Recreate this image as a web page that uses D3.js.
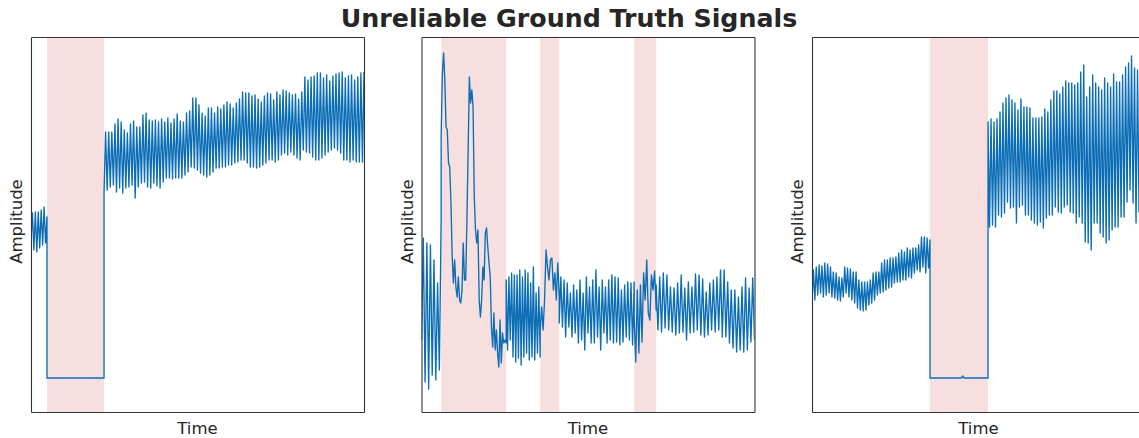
<!DOCTYPE html>
<html><head><meta charset="utf-8">
<script src="https://cdn.jsdelivr.net/npm/d3@7/dist/d3.min.js"></script>
<style>body{margin:0;background:#fff;overflow:hidden} svg{display:block}</style>
</head><body><svg id="chart" width="1139" height="438"></svg>
<script>
// ---------- text ----------
const chartTitle = "Unreliable Ground Truth Signals";
const xLabel = "Time";
const yLabel = "Amplitude";

// ---------- axes domains ----------
const timeDomain = [0, 30];      // seconds per panel
const ampDomain = [0, 375];      // arbitrary amplitude units

// ---------- panel 1 ----------
const p1Gaps = [[1.44, 6.58]];
const p1PreTrace = [172,199,162,200,160,200,164,202,167,205,169,195];
const p1DropTrace = [34, 34];
const p1Troughs = [219,222,225,227,220,224,219,224,225,227,214,225,229,230,225,224,229,226,224,230,
  234,234,233,234,234,234,237,240,245,244,242,239,237,235,237,240,244,244,245,245,
  247,247,249,250,252,252,249,245,245,244,245,247,249,252,252,250,252,257,259,257,
  260,257,254,252,262,260,259,255,252,252,254,257,260,262,264,262,259,252,252,250,
  252,250,250,250];
const p1Peaks = [280,280,280,288,293,290,282,279,288,291,285,285,297,299,292,291,292,290,293,290,
  294,289,293,298,291,290,299,301,314,314,307,299,296,304,304,299,305,303,307,310,
  308,304,309,313,320,319,319,316,317,313,310,316,319,318,312,320,317,322,321,319,
  317,318,313,320,335,332,335,336,339,339,334,337,331,336,338,339,340,334,336,337,
  332,335,339,340];

// ---------- panel 2 ----------
const p2Gaps = [[1.77, 7.63], [10.69, 12.41], [19.16, 21.14]];
const p2StartTrace = [72,174,30,169,23,167,37,152,32,129,42,192];
const p2Gap1Trace = [275,339,359,332,285,282,249,245,209,155,129,152,125,115,135,112,109,122,169,132,
  132,192,262,335,309,322,305,215,182,169,182,112,95,112,145,132,179,184,165,149,
  135,85,65,99,62,82,59,45,92,49,79,69,72,69];
const p2S3Peaks = [132,135,139,137,137,142,135,142,139,129,145,119,125];
const p2S3Troughs = [62,72,55,50,54,47,55,59,52,55,52,59,55];
const p2Gap2Trace = [82,105,82,112,162,145,132,152,154,122,139,112,149,115];
const p2S5Troughs = [89,85,75,85,75,79,69,72,62,79,69,69,75,62,79,69,72,69,70,67,70,75,72,67];
const p2S5Peaks = [135,132,129,119,127,122,132,119,135,125,132,142,125,132,125,132,137,135,134,122,127,130,129,130];
const p2Gap3Trace = [95,50,122,59,127,70,139,112,152,99,92,137,122,141,102];
const p2S7Peaks = [127,135,139,137,125,124,129,137,124,130,125,138,137,133,120,129,132,135,142,142,130,122,122,115,125,134,124,134];
const p2S7Troughs = [82,80,84,82,80,77,79,80,72,79,80,82,77,75,77,82,80,82,75,75,69,64,60,62,60,62,70,72];

// ---------- panel 3 ----------
const p3Gaps = [[10.63, 15.86]];
const p3PreTroughs = [110,112,117,119,115,117,119,115,114,112,111,115,119,115,112,109,104,102,101,102,
  107,109,112,117,119,120,122,124,125,129,130,130,132,132,135,134,139,142,140,145,139,144];
const p3PrePeaks = [142,145,147,146,149,148,145,140,139,135,134,145,144,143,140,140,132,130,130,130,
  132,139,140,140,149,152,152,154,154,155,159,162,160,164,162,164,164,167,175,175,174,172];
const p3DropTrace = [34,34,34,34,34,34,34,34,34,34,34,34,34,34,34,34,34,34,34,34,34,34,
  36,34,34,34,34,34,34,34,34,34,34,34,34,34,34,34,34,34];
const p3PostPeaks = [290,293,290,293,300,309,314,317,312,309,302,313,305,305,304,294,294,294,295,303,
  300,312,321,321,318,325,331,329,329,327,329,340,347,315,325,337,329,325,322,334,
  329,325,338,330,330,337,345,349,356,344,342,340,336];
const p3PostTroughs = [185,187,185,197,195,199,210,204,205,189,205,207,197,197,192,189,187,190,184,194,
  197,197,205,200,199,205,207,200,199,189,195,189,170,169,162,189,189,179,175,169,
  172,182,185,185,195,195,210,222,209,189,200,205,200];

// ---------- build ----------
function interleave(a, b) {
  const out = [];
  for (let i = 0; i < Math.max(a.length, b.length); i++) {
    if (i < a.length) out.push(a[i]);
    if (i < b.length) out.push(b[i]);
  }
  return out;
}
function buildSeries(segments) {
  const pts = [];
  segments.forEach(s => {
    const n = s.values.length;
    s.values.forEach((v, i) => pts.push({t: s.t0 + (n > 1 ? (s.t1 - s.t0) * i / (n - 1) : 0), v}));
  });
  return pts;
}

const panels = [
  { gaps: p1Gaps, series: buildSeries([
      {t0: 0, t1: 1.44, values: p1PreTrace},
      {t0: 1.44, t1: 6.58, values: p1DropTrace},
      {t0: 6.58, t1: 30, values: interleave(p1Troughs, p1Peaks)}
  ])},
  { gaps: p2Gaps, series: buildSeries([
      {t0: 0, t1: 1.77, values: p2StartTrace},
      {t0: 1.77, t1: 7.63, values: p2Gap1Trace},
      {t0: 7.63, t1: 10.69, values: interleave(p2S3Peaks, p2S3Troughs)},
      {t0: 10.69, t1: 12.41, values: p2Gap2Trace},
      {t0: 12.41, t1: 19.16, values: interleave(p2S5Troughs, p2S5Peaks)},
      {t0: 19.16, t1: 21.14, values: p2Gap3Trace},
      {t0: 21.14, t1: 30, values: interleave(p2S7Peaks, p2S7Troughs)}
  ])},
  { gaps: p3Gaps, series: buildSeries([
      {t0: 0, t1: 10.63, values: interleave(p3PreTroughs, p3PrePeaks)},
      {t0: 10.63, t1: 15.86, values: p3DropTrace},
      {t0: 15.86, t1: 30, values: interleave(p3PostPeaks, p3PostTroughs)}
  ])}
];

// ---------- layout ----------
const svg = d3.select("#chart");
const panelW = 333, panelH = 375, panelTop = 37, left0 = 31, step = 390.5;
const textColor = "#262626";
const lineColor = "#0a6db6";
const shadeColor = "#f7dfdf";

svg.append("text")
  .attr("x", 569).attr("y", 27)
  .attr("text-anchor", "middle")
  .attr("font-family", "DejaVu Sans")
  .attr("font-weight", "bold")
  .attr("font-size", 25.3)
  .attr("fill", textColor)
  .text(chartTitle);

panels.forEach((p, i) => {
  const left = left0 + i * step;
  const x = d3.scaleLinear().domain(timeDomain).range([left, left + panelW]);
  const y = d3.scaleLinear().domain(ampDomain).range([panelTop + panelH, panelTop]);

  const clipId = "clip" + i;
  svg.append("clipPath").attr("id", clipId)
    .append("rect").attr("x", left).attr("y", panelTop).attr("width", panelW).attr("height", panelH);

  const g = svg.append("g").attr("clip-path", `url(#${clipId})`);
  g.selectAll("rect.shade").data(p.gaps).join("rect")
    .attr("class", "shade")
    .attr("x", d => x(d[0])).attr("width", d => x(d[1]) - x(d[0]))
    .attr("y", panelTop).attr("height", panelH)
    .attr("fill", shadeColor);

  const line = d3.line().x(d => x(d.t)).y(d => y(d.v));
  g.append("path").datum(p.series)
    .attr("d", line)
    .attr("fill", "none")
    .attr("stroke", lineColor)
    .attr("stroke-width", 1.35)
    .attr("stroke-linejoin", "round");

  const xAxis = d3.axisBottom(x).tickValues([]).tickSizeOuter(0);
  const yAxis = d3.axisLeft(y).tickValues([]).tickSizeOuter(0);
  const xAxisTop = d3.axisTop(x).tickValues([]).tickSizeOuter(0);
  const yAxisRight = d3.axisRight(y).tickValues([]).tickSizeOuter(0);
  [[xAxis, `translate(0,${panelTop + panelH})`], [yAxis, `translate(${left},0)`],
   [xAxisTop, `translate(0,${panelTop})`], [yAxisRight, `translate(${left + panelW},0)`]].forEach(([ax, tr]) => {
    const a = svg.append("g").attr("transform", tr).call(ax);
    a.select(".domain").attr("stroke", "#333").attr("stroke-width", 1.1);
  });

  svg.append("text")
    .attr("x", left + panelW / 2).attr("y", 434)
    .attr("text-anchor", "middle")
    .attr("font-family", "DejaVu Sans").attr("font-size", 16.5)
    .attr("fill", textColor)
    .text(xLabel);

  svg.append("text")
    .attr("transform", `translate(${left - 9},${panelTop + panelH / 2 - 3}) rotate(-90)`)
    .attr("text-anchor", "middle")
    .attr("font-family", "DejaVu Sans").attr("font-size", 16.5)
    .attr("fill", textColor)
    .text(yLabel);
});
</script></body></html>
